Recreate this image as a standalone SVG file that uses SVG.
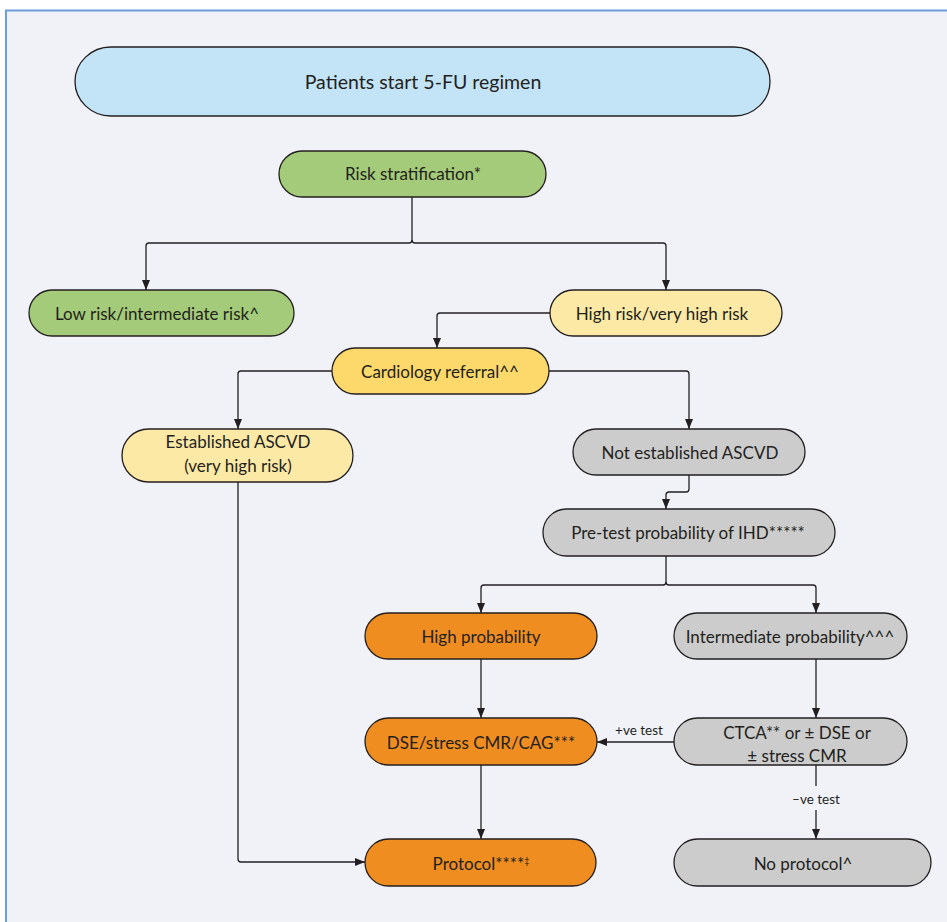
<svg xmlns="http://www.w3.org/2000/svg" width="947" height="922" viewBox="0 0 947 922">
<style>
.t{font-family:Lato,"Open Sans","Liberation Sans",sans-serif;font-size:17px;fill:#231f20;text-anchor:middle}
.s{font-size:13.5px}
.b{stroke:#231f20;stroke-width:1.3}
.blue{fill:#c3e4f6}.green{fill:#a4cb79}.ly{fill:#fde9a6}.y{fill:#fdd96b}.g{fill:#cccccc}.o{fill:#f08d21}
.c{fill:none;stroke:#231f20;stroke-width:1.3}
</style>
<defs>
<marker id="ah" markerUnits="userSpaceOnUse" markerWidth="10" markerHeight="8" refX="10" refY="4" orient="auto">
<path d="M0,0 L10,4 L0,8 z" fill="#231f20"/>
</marker>
</defs>
<rect x="0" y="0" width="947" height="922" fill="#ffffff"/>
<rect x="6" y="10.5" width="960" height="930" fill="#f0f2f8" stroke="#6d9ed9" stroke-width="2"/>

<g id="connectors">
<path class="c" d="M412,197 V240 Q412,243 409,243 H149 Q146,243 146,246 V290" marker-end="url(#ah)"/>
<path class="c" d="M412,240 Q412,243 415,243 H663 Q666,243 666,246 V290" marker-end="url(#ah)"/>
<path class="c" d="M550,313 H440 Q437,313 437,316 V348" marker-end="url(#ah)"/>
<path class="c" d="M332,371 H241 Q238,371 238,374 V429" marker-end="url(#ah)"/>
<path class="c" d="M549,371 H686 Q689,371 689,374 V429" marker-end="url(#ah)"/>
<path class="c" d="M689,475 V489 Q689,492 686,492 H669 Q666,492 666,495 V509" marker-end="url(#ah)"/>
<path class="c" d="M666,556 V582 Q666,585 663,585 H484 Q481,585 481,588 V613" marker-end="url(#ah)"/>
<path class="c" d="M666,582 Q666,585 669,585 H813 Q816,585 816,588 V613" marker-end="url(#ah)"/>
<path class="c" d="M481,659 V718" marker-end="url(#ah)"/>
<path class="c" d="M816,659 V718" marker-end="url(#ah)"/>
<path class="c" d="M674,742 H597" marker-end="url(#ah)"/>
<path class="c" d="M481,765 V839" marker-end="url(#ah)"/>
<path class="c" d="M238,482 V859 Q238,862 241,862 H365" marker-end="url(#ah)"/>
<path class="c" d="M816,765 V786"/>
<path class="c" d="M816,810 V839" marker-end="url(#ah)"/>
<text class="t s" x="639" y="735">+ve test</text>
<text class="t s" x="816" y="804">–ve test</text>
</g>

<g id="n-start"><rect class="b blue" x="75" y="47" width="695" height="69" rx="36" ry="34.5"/><text class="t" style="font-size:19.5px" x="423" y="89">Patients start 5-FU regimen</text></g>
<g id="n-risk"><rect class="b green" x="279" y="151" width="267" height="46" rx="23"/><text class="t" x="413" y="180">Risk stratification*</text></g>
<g id="n-low"><rect class="b green" x="29" y="290" width="265" height="46" rx="23"/><text class="t" x="157" y="320">Low risk/intermediate risk^</text></g>
<g id="n-high"><rect class="b ly" x="550" y="290" width="232" height="46" rx="23"/><text class="t" x="662" y="320">High risk/very high risk</text></g>
<g id="n-cardio"><rect class="b y" x="332" y="348" width="217" height="46" rx="23"/><text class="t" x="440" y="378">Cardiology referral^^</text></g>
<g id="n-est"><rect class="b ly" x="122" y="429" width="231" height="53" rx="26.5"/><text class="t" x="238" y="448">Established ASCVD</text><text class="t" x="238" y="472">(very high risk)</text></g>
<g id="n-notest"><rect class="b g" x="573" y="429" width="232" height="46" rx="23"/><text class="t" x="690" y="459">Not established ASCVD</text></g>
<g id="n-pretest"><rect class="b g" x="543" y="509" width="292" height="47" rx="23.5"/><text class="t" x="688" y="539">Pre-test probability of IHD*****</text></g>
<g id="n-highp"><rect class="b o" x="365" y="613" width="232" height="46" rx="23"/><text class="t" x="481" y="643">High probability</text></g>
<g id="n-intp"><rect class="b g" x="674" y="613" width="233" height="46" rx="23"/><text class="t" x="790" y="643">Intermediate probability^^^</text></g>
<g id="n-dse"><rect class="b o" x="365" y="718" width="232" height="47" rx="23.5"/><text class="t" x="481" y="749">DSE/stress CMR/CAG***</text></g>
<g id="n-ctca"><rect class="b g" x="674" y="718" width="233" height="47" rx="23.5"/><text class="t" x="797" y="739">CTCA** or ± DSE or</text><text class="t" x="797" y="762">± stress CMR</text></g>
<g id="n-protocol"><rect class="b o" x="365" y="839" width="231" height="47" rx="23.5"/><text class="t" x="481" y="870">Protocol****<tspan style="font-size:9px" dy="-6">‡</tspan></text></g>
<g id="n-noprot"><rect class="b g" x="674" y="839" width="257" height="47" rx="23.5"/><text class="t" x="803" y="870">No protocol^</text></g>
</svg>
